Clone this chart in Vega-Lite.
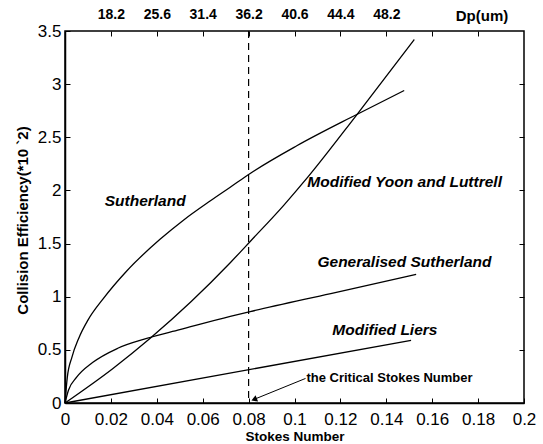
{
  "$schema": "https://vega.github.io/schema/vega-lite/v6.json",
  "width": 459,
  "height": 372,
  "autosize": {"type": "none"},
  "padding": {"left": 65, "top": 31, "right": 19, "bottom": 41},
  "background": "white",
  "config": {
    "font": "Liberation Sans",
    "view": {"stroke": "black", "strokeWidth": 1.5},
    "axis": {
      "grid": false,
      "domainColor": "black",
      "domainWidth": 1.5,
      "tickColor": "black",
      "tickWidth": 1,
      "labelColor": "black",
      "titleColor": "black",
      "labelFlush": false,
      "labelOverlap": false
    }
  },
  "datasets": {
    "curves": [
      {"series": "Sutherland", "x": 0, "y": 0},
      {"series": "Sutherland", "x": 0.001, "y": 0.24},
      {"series": "Sutherland", "x": 0.003, "y": 0.43},
      {"series": "Sutherland", "x": 0.006, "y": 0.61},
      {"series": "Sutherland", "x": 0.01, "y": 0.78},
      {"series": "Sutherland", "x": 0.0166, "y": 0.98},
      {"series": "Sutherland", "x": 0.0268, "y": 1.24},
      {"series": "Sutherland", "x": 0.0414, "y": 1.54},
      {"series": "Sutherland", "x": 0.0516, "y": 1.72},
      {"series": "Sutherland", "x": 0.0632, "y": 1.9},
      {"series": "Sutherland", "x": 0.072, "y": 2.03},
      {"series": "Sutherland", "x": 0.0807, "y": 2.16},
      {"series": "Sutherland", "x": 0.101, "y": 2.42},
      {"series": "Sutherland", "x": 0.1267, "y": 2.71},
      {"series": "Sutherland", "x": 0.1478, "y": 2.94},
      {"series": "Yoon", "x": 0, "y": 0},
      {"series": "Yoon", "x": 0.0209, "y": 0.325},
      {"series": "Yoon", "x": 0.037, "y": 0.607},
      {"series": "Yoon", "x": 0.055, "y": 0.955},
      {"series": "Yoon", "x": 0.072, "y": 1.32},
      {"series": "Yoon", "x": 0.0807, "y": 1.52},
      {"series": "Yoon", "x": 0.0953, "y": 1.86},
      {"series": "Yoon", "x": 0.1056, "y": 2.12},
      {"series": "Yoon", "x": 0.1267, "y": 2.7},
      {"series": "Yoon", "x": 0.1522, "y": 3.42},
      {"series": "Generalised", "x": 0, "y": 0},
      {"series": "Generalised", "x": 0.0015, "y": 0.12},
      {"series": "Generalised", "x": 0.005, "y": 0.24},
      {"series": "Generalised", "x": 0.012, "y": 0.38},
      {"series": "Generalised", "x": 0.023, "y": 0.515},
      {"series": "Generalised", "x": 0.036, "y": 0.61},
      {"series": "Generalised", "x": 0.05, "y": 0.69},
      {"series": "Generalised", "x": 0.072, "y": 0.815},
      {"series": "Generalised", "x": 0.0807, "y": 0.86},
      {"series": "Generalised", "x": 0.1158, "y": 1.03},
      {"series": "Generalised", "x": 0.153, "y": 1.21},
      {"series": "Liers", "x": 0, "y": 0},
      {"series": "Liers", "x": 0.1508, "y": 0.59}
    ],
    "labels": [
      {"label": "Sutherland", "x": 0.0173, "y": 1.9},
      {"label": "Modified Yoon and Luttrell", "x": 0.1056, "y": 2.076},
      {"label": "Generalised Sutherland", "x": 0.110, "y": 1.326},
      {"label": "Modified Liers", "x": 0.1165, "y": 0.685}
    ],
    "note": [
      {"label": "the Critical Stokes Number", "x": 0.1052, "y": 0.232}
    ],
    "arrow": [
      {"x": 0.1048, "y": 0.231},
      {"x": 0.0825, "y": 0.035}
    ],
    "head": [
      {"x": 0.0828, "y": 0.036}
    ],
    "critical": [
      {"x": 0.08}
    ]
  },
  "layer": [
    {
      "data": {"name": "curves"},
      "mark": {"type": "line", "color": "black", "strokeWidth": 1.3, "interpolate": "monotone"},
      "encoding": {
        "x": {
          "field": "x", "type": "quantitative",
          "scale": {"domain": [0, 0.2], "nice": false, "zero": false},
          "axis": {
            "orient": "bottom",
            "values": [0, 0.02, 0.04, 0.06, 0.08, 0.1, 0.12, 0.14, 0.16, 0.18, 0.2],
            "format": "~g",
            "tickSize": -5,
            "labelPadding": 13,
            "labelFontSize": 17,
            "title": "Stokes Number",
            "titleFontSize": 13.5,
            "titleFontWeight": "bold",
            "titleX": 229.5,
            "titleY": 33.5,
            "titleBaseline": "middle"
          }
        },
        "y": {
          "field": "y", "type": "quantitative",
          "scale": {"domain": [0, 3.5], "nice": false, "zero": false},
          "axis": {
            "orient": "left",
            "values": [0, 0.5, 1, 1.5, 2, 2.5, 3, 3.5],
            "format": "~g",
            "tickSize": -5,
            "labelPadding": 9,
            "labelFontSize": 17,
            "title": "Collision Efficiency(*10 `2)",
            "titleFontSize": 15,
            "titleFontWeight": "bold",
            "titleAngle": -90,
            "titleX": -43,
            "titleY": 189,
            "titleAlign": "center",
            "titleBaseline": "middle"
          }
        },
        "detail": {"field": "series", "type": "nominal"}
      }
    },
    {
      "data": {"name": "critical"},
      "mark": {"type": "rule", "color": "black", "strokeWidth": 1.2, "strokeDash": [7, 5]},
      "encoding": {
        "x": {
          "field": "x", "type": "quantitative",
          "axis": {
            "orient": "top",
            "values": [0.02, 0.04, 0.06, 0.08, 0.1, 0.12, 0.14, 0.16, 0.18],
            "labelExpr": "['','18.2','25.6','31.4','36.2','40.6','44.4','48.2','','',''][round(datum.value*50)]",
            "tickSize": -5,
            "labelPadding": 15,
            "labelFontSize": 14,
            "labelFontWeight": "bold",
            "domain": false,
            "title": "Dp(um)",
            "titleFontSize": 15,
            "titleFontWeight": "bold",
            "titleAngle": 0,
            "titleX": 416.5,
            "titleY": -16,
            "titleAlign": "center",
            "titleBaseline": "middle"
          }
        }
      }
    },
    {
      "data": {"name": "labels"},
      "mark": {"type": "text", "align": "left", "baseline": "middle", "fontSize": 15.5, "fontWeight": "bold", "fontStyle": "italic", "color": "black"},
      "encoding": {
        "x": {"field": "x", "type": "quantitative", "axis": null},
        "y": {
          "field": "y", "type": "quantitative",
          "axis": {
            "orient": "right",
            "values": [0.5, 1, 1.5, 2, 2.5, 3],
            "labels": false,
            "tickSize": -5,
            "domain": false,
            "title": null
          }
        },
        "text": {"field": "label"}
      }
    },
    {
      "data": {"name": "note"},
      "mark": {"type": "text", "align": "left", "baseline": "middle", "fontSize": 13, "fontWeight": "bold", "color": "black"},
      "encoding": {
        "x": {"field": "x", "type": "quantitative", "axis": null},
        "y": {"field": "y", "type": "quantitative", "axis": null},
        "text": {"field": "label"}
      }
    },
    {
      "data": {"name": "arrow"},
      "mark": {"type": "line", "color": "black", "strokeWidth": 1},
      "encoding": {
        "x": {"field": "x", "type": "quantitative", "axis": null},
        "y": {"field": "y", "type": "quantitative", "axis": null}
      }
    },
    {
      "data": {"name": "head"},
      "mark": {"type": "point", "shape": "triangle", "angle": 248, "size": 45, "filled": true, "color": "black", "opacity": 1},
      "encoding": {
        "x": {"field": "x", "type": "quantitative", "axis": null},
        "y": {"field": "y", "type": "quantitative", "axis": null}
      }
    }
  ],
  "resolve": {"axis": {"x": "independent", "y": "independent"}}
}
